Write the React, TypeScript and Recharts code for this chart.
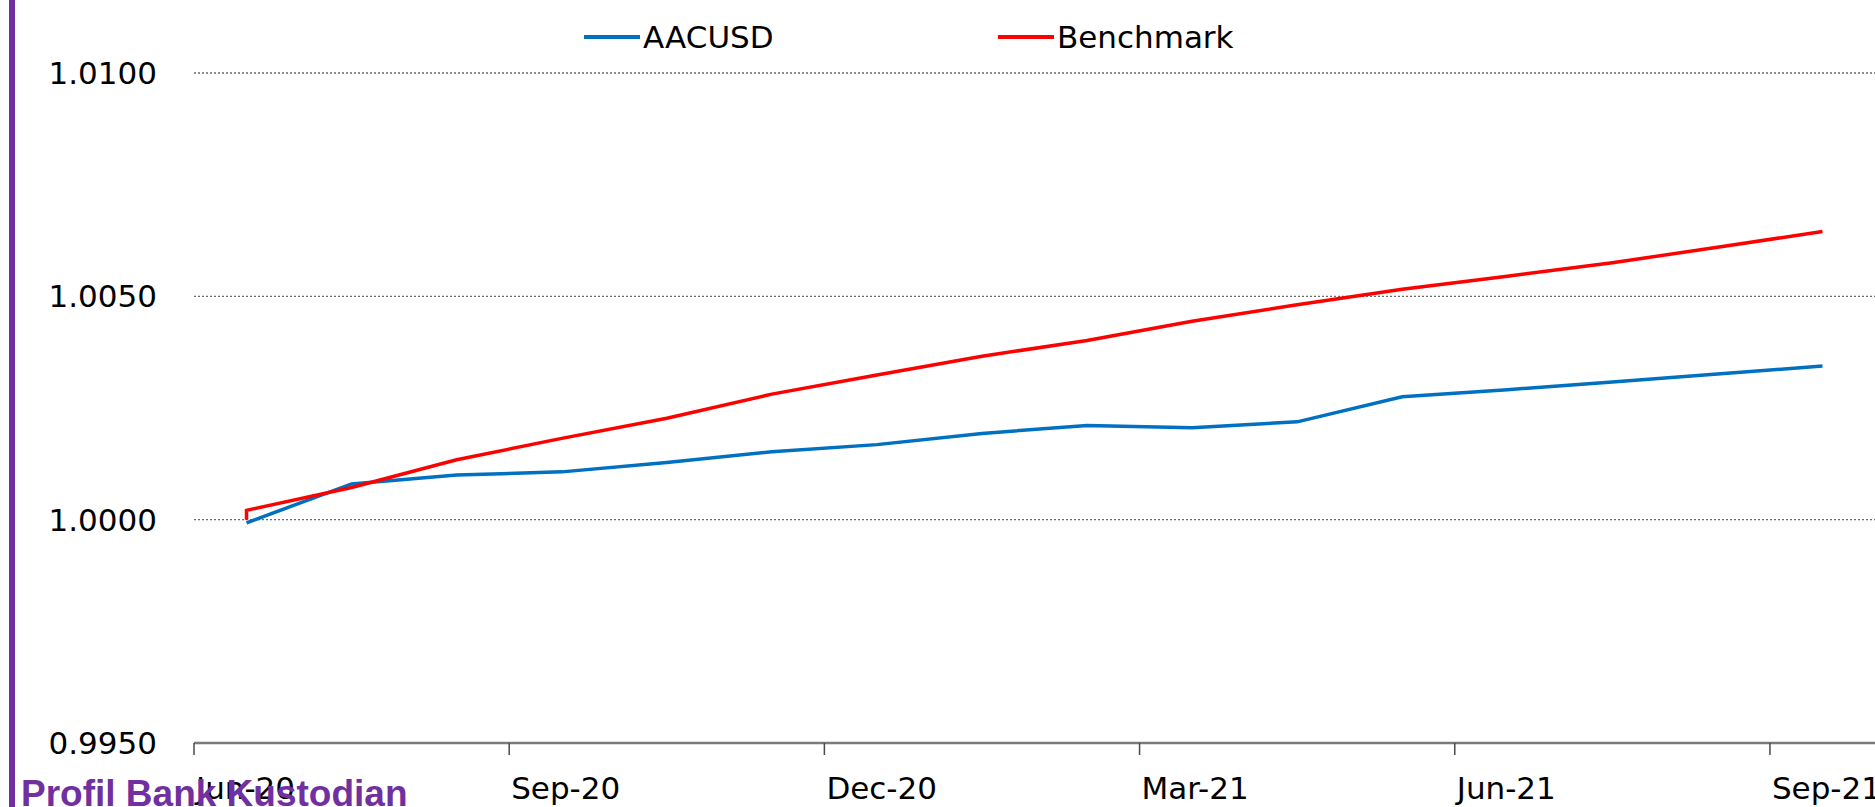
import React from 'react';
import {
  LineChart,
  Line,
  XAxis,
  YAxis,
  CartesianGrid,
  Legend
} from 'recharts';

// monthly observations, Jun-20 .. Sep-21
const months = [
  'Jun-20', 'Jul-20', 'Aug-20', 'Sep-20', 'Oct-20', 'Nov-20', 'Dec-20', 'Jan-21',
  'Feb-21', 'Mar-21', 'Apr-21', 'May-21', 'Jun-21', 'Jul-21', 'Aug-21', 'Sep-21'
];

const aacusd = [
  0.99993, 1.00080, 1.00100, 1.00107, 1.00128, 1.00152, 1.00168, 1.00193,
  1.00211, 1.00206, 1.00219, 1.00275, 1.00291, 1.00308, 1.00326, 1.00344
];

const benchmark = [
  1.00021, 1.00072, 1.00134, 1.00182, 1.00227, 1.00281, 1.00324, 1.00366,
  1.00401, 1.00444, 1.00481, 1.00516, 1.00545, 1.00575, 1.00610, 1.00645
];

// benchmark series opens at par before the first month's value
const benchmarkStart = 1.0;

const tickLabels = ['Jun-20', 'Sep-20', 'Dec-20', 'Mar-21', 'Jun-21', 'Sep-21'];
const yTicks = [0.995, 1.0, 1.005, 1.01];

const BLUE = '#0070C0';
const RED = '#FF0000';
const PURPLE = '#7030A0';
const FONT = '"DejaVu Sans", sans-serif';

// x position = month index, points sit mid-month between the quarter ticks
const aacusdData = months.map((m, i) => ({ m: i + 0.5, label: m, v: aacusd[i] }));
const benchmarkData = [
  { m: 0.5, label: months[0], v: benchmarkStart },
  ...months.map((m, i) => ({ m: i + 0.5, label: m, v: benchmark[i] }))
];
const xTicks = tickLabels.map(t => months.indexOf(t));

const XTick = (props: any) => {
  const { x, y, payload } = props;
  return (
    <text x={x + 2} y={y + 42} textAnchor="start" fontFamily={FONT} fontSize={31} fill="#000">
      {months[payload.value]}
    </text>
  );
};

const renderLegend = () => (
  <div style={{ position: 'relative', height: 38, width: 700, fontFamily: FONT, fontSize: 31, color: '#000' }}>
    {[
      { name: 'AACUSD', color: BLUE, left: 0 },
      { name: 'Benchmark', color: RED, left: 414 }
    ].map(item => (
      <div key={item.name} style={{ position: 'absolute', left: item.left, top: 0, display: 'flex', alignItems: 'center', height: 38 }}>
        <span style={{ display: 'inline-block', width: 56, height: 3.5, background: item.color, marginRight: 3 }} />
        <span style={{ lineHeight: '38px' }}>{item.name}</span>
      </div>
    ))}
  </div>
);

export default function App() {
  return (
    <div style={{ position: 'absolute', left: 0, top: 0, width: 1875, height: 807, background: '#fff', overflow: 'hidden' }}>
      <div style={{ position: 'absolute', left: 9, top: 0, width: 6, height: 807, background: PURPLE }} />
      <LineChart width={1875} height={807} margin={{ top: 73, right: 0, bottom: 0, left: 0 }}>
        <CartesianGrid horizontal vertical={false} stroke="#6a6a6a" strokeWidth={1.4} strokeDasharray="2 2" />
        <XAxis
          dataKey="m"
          type="number"
          domain={[0, 16]}
          ticks={xTicks}
          allowDataOverflow
          height={64}
          tickSize={12}
          axisLine={{ stroke: '#7a7a7a', strokeWidth: 2.5 }}
          tickLine={{ stroke: '#4a4a4a', strokeWidth: 1.5 }}
          tick={<XTick />}
        />
        <YAxis
          type="number"
          domain={[0.995, 1.01]}
          ticks={yTicks}
          width={194}
          tickSize={0}
          tickMargin={37}
          axisLine={false}
          tickLine={false}
          tickFormatter={(v: number) => v.toFixed(4)}
          tick={{ fontFamily: FONT, fontSize: 31, fill: '#000' }}
        />
        <Legend
          layout="horizontal"
          verticalAlign="middle"
          align="center"
          wrapperStyle={{ top: 18, left: 584, width: 700 }}
          content={renderLegend}
        />
        <Line data={aacusdData} dataKey="v" name="AACUSD" type="linear" stroke={BLUE} strokeWidth={3.5} dot={false} isAnimationActive={false} />
        <Line data={benchmarkData} dataKey="v" name="Benchmark" type="linear" stroke={RED} strokeWidth={3.5} dot={false} isAnimationActive={false} />
      </LineChart>
      <div
        style={{
          position: 'absolute',
          left: 21,
          top: 775,
          fontFamily: '"Liberation Sans", Arial, sans-serif',
          fontWeight: 'bold',
          fontSize: 37,
          lineHeight: '37px',
          color: PURPLE,
          whiteSpace: 'nowrap'
        }}
      >
        Profil Bank Kustodian
      </div>
    </div>
  );
}
